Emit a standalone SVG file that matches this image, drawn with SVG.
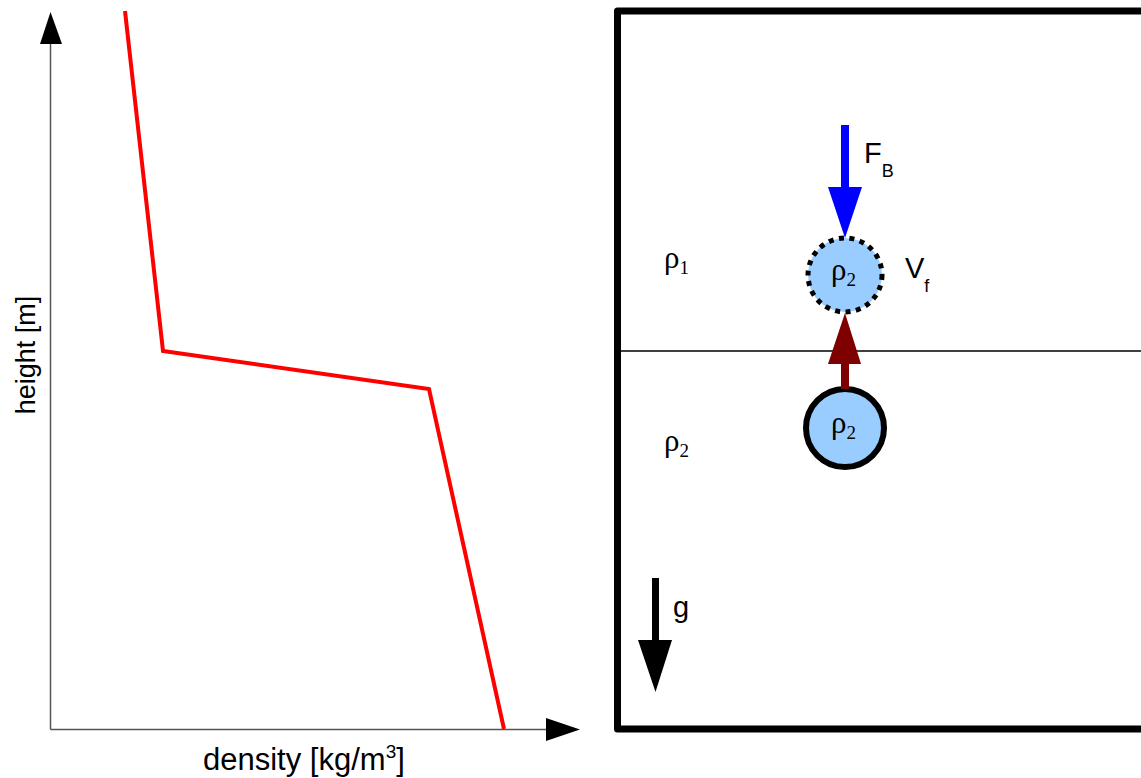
<svg xmlns="http://www.w3.org/2000/svg" width="1141" height="778" viewBox="0 0 1141 778">
<style>
.sans{font-family:"Liberation Sans",Arial,sans-serif;fill:#000}
.serif{font-family:"Liberation Serif","DejaVu Serif","Times New Roman",serif;fill:#000}
.axis{stroke:#555;stroke-width:1.5;fill:none}
.rho{font-size:31px}
.sub{font-size:19px}
</style>
<rect width="1141" height="778" fill="#fff"/>
<g id="plot">
  <line class="axis" x1="50.5" y1="40" x2="50.5" y2="729.5"/>
  <line class="axis" x1="50.5" y1="729.5" x2="550" y2="729.5"/>
  <polygon points="50.5,12 40,44 62,44" fill="#000"/>
  <polygon points="580,729.5 546,718 546,741" fill="#000"/>
  <polyline points="125,11 163,351 429,389 504,729" fill="none" stroke="#f00" stroke-width="4"/>
  <text class="sans" x="203" y="770" font-size="31">density [kg/m<tspan font-size="19" dy="-12">3</tspan><tspan dy="12">]</tspan></text>
  <text class="sans" font-size="27" text-anchor="middle" transform="translate(35,355) rotate(-90)">height [m]</text>
</g>
<g id="box">
  <path d="M1145,11 H617.5 V729 H1145" fill="none" stroke="#000" stroke-width="7" stroke-linejoin="round"/>
  <line x1="620" y1="351" x2="1141" y2="351" stroke="#000" stroke-width="1.5"/>
  <text class="serif" font-family="Liberation Serif, DejaVu Serif, serif" x="664" y="268"><tspan class="rho">ρ</tspan><tspan class="sub" dy="6">1</tspan></text>
  <text class="serif" font-family="Liberation Serif, DejaVu Serif, serif" x="664" y="451"><tspan class="rho">ρ</tspan><tspan class="sub" dy="6">2</tspan></text>
</g>
<g id="bubble-top">
  <circle cx="845" cy="275" r="37" fill="#99ccff" stroke="#000" stroke-width="5" stroke-dasharray="5 5.5"/>
  <text class="serif" font-family="Liberation Serif, DejaVu Serif, serif" x="831" y="280"><tspan class="rho">ρ</tspan><tspan class="sub" dy="6">2</tspan></text>
</g>
<g id="bubble-bottom">
  <circle cx="845" cy="428" r="39" fill="#99ccff" stroke="#000" stroke-width="6"/>
  <text class="serif" font-family="Liberation Serif, DejaVu Serif, serif" x="831" y="433"><tspan class="rho">ρ</tspan><tspan class="sub" dy="6">2</tspan></text>
</g>
<g id="connectors">
  <g id="force-FB">
    <rect x="841" y="125" width="8" height="64" fill="#0000ff"/>
    <polygon points="828,187 862,187 845,238" fill="#0000ff"/>
    <text class="sans" x="864" y="163" font-size="29">F<tspan font-size="18" dy="14">B</tspan></text>
  </g>
  <g id="force-up">
    <rect x="841" y="362" width="8" height="27" fill="#7f0000"/>
    <polygon points="828,364 861,364 845,313" fill="#7f0000"/>
  </g>
  <g id="gravity">
    <rect x="652" y="578" width="7" height="64" fill="#000"/>
    <polygon points="638,640 672,640 655.5,692" fill="#000"/>
    <text class="sans" x="673" y="617" font-size="29">g</text>
  </g>
  <text class="sans" x="905" y="278" font-size="29">V<tspan font-size="18" dy="14">f</tspan></text>
</g>
</svg>
